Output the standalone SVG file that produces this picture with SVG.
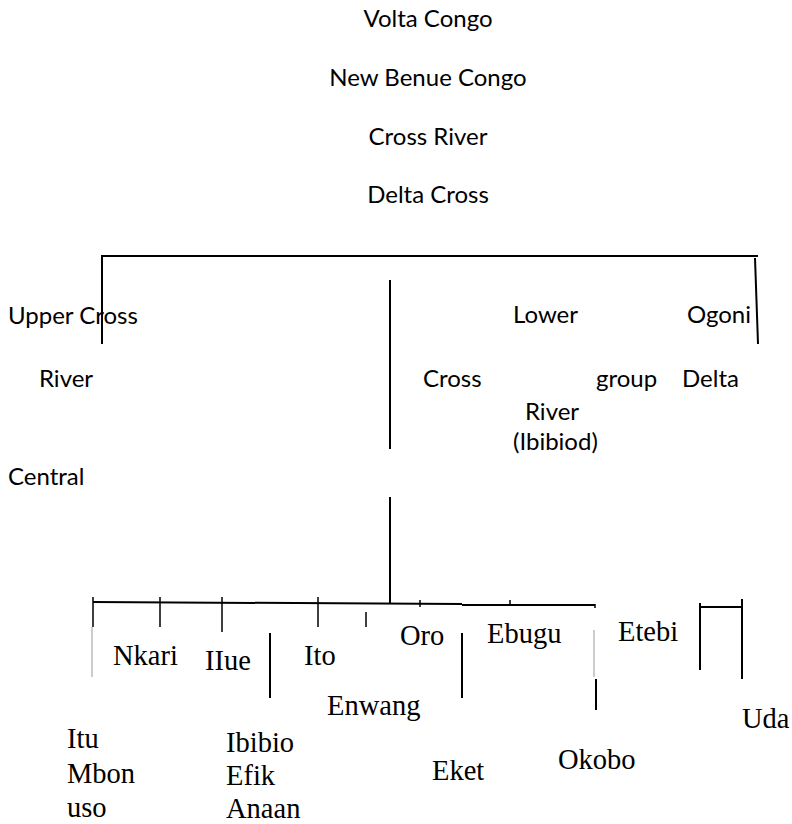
<svg xmlns="http://www.w3.org/2000/svg" width="792" height="824" viewBox="0 0 792 824">
<style>
.s{font-family:Lato,"Open Sans",sans-serif;font-size:24px;fill:#000}
.t{font-family:"Liberation Serif","Times New Roman",serif;font-size:28.5px;fill:#000}
.ln{stroke:#000;stroke-width:2;fill:none}
.tk{stroke:#000;stroke-width:1.5;fill:none}
.gr{stroke:#999;stroke-width:1;fill:none}
</style>
<rect width="792" height="824" fill="#fff"/>
<g id="connectors">
<path class="ln" d="M102 256 H758 M102 255 V344 M755 258 L758 344 M390 280 V449 M390 497 V604"/>
<path class="ln" d="M93 602 L462 604 M462 605 H595"/>
<path class="tk" d="M93 597 V627 M160 597 V627 M222 597 V632 M318 597 V627 M366 612 V627 M420 600 V607 M510 600 V605 M595 604 V608"/>
<path class="gr" d="M92 627 V677 M594 630 V677"/>
<path class="ln" d="M270 633 V698 M462 633 V698 M596 679 V710"/>
<path class="ln" d="M700 607 H742 M700 603 V670 M742 599 V679"/>
</g>
<g id="n-volta"><text class="s" x="428" y="27" text-anchor="middle">Volta Congo</text></g>
<g id="n-newbenue"><text class="s" x="428" y="86" text-anchor="middle">New Benue Congo</text></g>
<g id="n-crossriver"><text class="s" x="428" y="145" text-anchor="middle">Cross River</text></g>
<g id="n-deltacross"><text class="s" x="428" y="203" text-anchor="middle">Delta Cross</text></g>
<g id="n-ucrc">
<text class="s" x="8" y="324">Upper Cross</text>
<text class="s" x="39" y="387">River</text>
<text class="s" x="8" y="485">Central</text>
</g>
<g id="n-lcr">
<text class="s" x="513" y="323">Lower</text>
<text class="s" x="423" y="387">Cross</text>
<text class="s" x="596" y="387">group</text>
<text class="s" x="525" y="420">River</text>
<text class="s" x="513" y="450">(Ibibiod)</text>
</g>
<g id="n-ogoni">
<text class="s" x="687" y="323">Ogoni</text>
<text class="s" x="682" y="387">Delta</text>
</g>
<g id="n-nkari"><text class="t" x="113" y="665">Nkari</text></g>
<g id="n-ilue"><text class="t" x="205" y="670">IIue</text></g>
<g id="n-ito"><text class="t" x="304" y="665">Ito</text></g>
<g id="n-enwang"><text class="t" x="327" y="715">Enwang</text></g>
<g id="n-itu">
<text class="t" x="67" y="748">Itu</text>
<text class="t" x="67" y="783">Mbon</text>
<text class="t" x="67" y="817">uso</text>
</g>
<g id="n-ibibio">
<text class="t" x="226" y="752">Ibibio</text>
<text class="t" x="226" y="785">Efik</text>
<text class="t" x="226" y="818">Anaan</text>
</g>
<g id="n-oro"><text class="t" x="400" y="645">Oro</text></g>
<g id="n-ebugu"><text class="t" x="487" y="643">Ebugu</text></g>
<g id="n-etebi"><text class="t" x="618" y="641">Etebi</text></g>
<g id="n-eket"><text class="t" x="432" y="780">Eket</text></g>
<g id="n-okobo"><text class="t" x="558" y="769">Okobo</text></g>
<g id="n-uda"><text class="t" x="742" y="728">Uda</text></g>
</svg>
